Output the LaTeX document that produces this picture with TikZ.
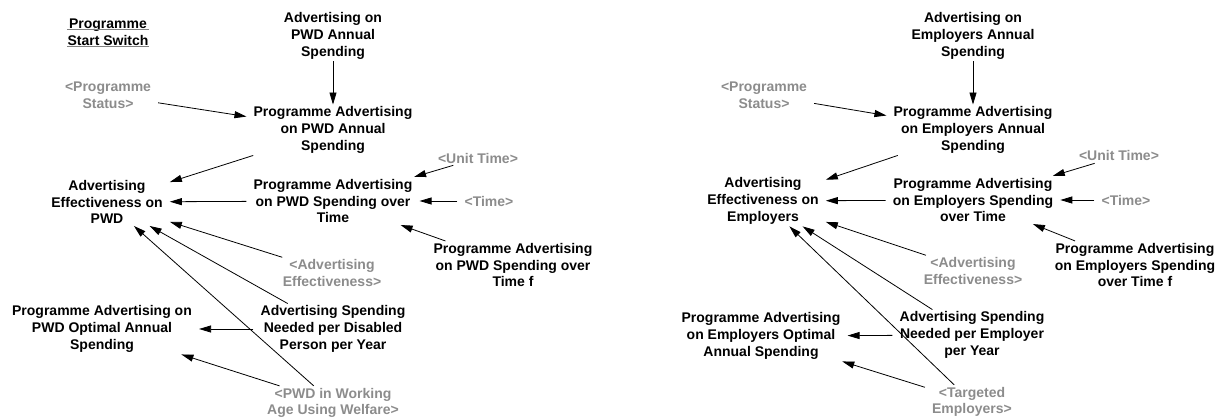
\documentclass[tikz,border=0pt]{standalone}
\usepackage{fontspec}
\setmainfont{Liberation Sans}
\usepackage{xcolor}
\usetikzlibrary{arrows.meta, positioning}

\definecolor{shadowgray}{RGB}{140,140,140}

\tikzset{
  var/.style={font=\fontsize{14}{16.7}\selectfont\bfseries, align=center, inner xsep=7pt, inner ysep=2pt},
  shadow/.style={var, text=shadowgray},
  link/.style={-{Triangle[length=12pt,width=7pt]}, line width=0.8pt},
  uline/.style={gray, line width=0.8pt}
}

\begin{document}
\begin{tikzpicture}[x=1pt, y=-1pt]
    \useasboundingbox (0,0) rectangle (1227,419);

    % PWD side
    \node[var] (switch) at (108,32) {Programme\\Start Switch};
    \draw[uline] ([shift={(7,-2.5)}]switch.west) -- ([shift={(-7,-2.5)}]switch.east);
    \draw[uline] ([shift={(7,14)}]switch.west) -- ([shift={(-7,14)}]switch.east);
    \node[var] (adpwd) at (333,36) {Advertising on\\PWD Annual\\Spending};
    \node[var] (paannual) at (333,130) {Programme Advertising\\on PWD Annual\\Spending};
    \node[shadow] (statusL) at (108,95) {<Programme\\Status>};
    \node[var] (effpwd) at (107,202) {Advertising\\Effectiveness on\\PWD};
    \node[var] (paovertime) at (333,201) {Programme Advertising\\on PWD Spending over\\Time};
    \node[shadow] (unittimeL) at (478,158) {<Unit Time>};
    \node[shadow] (timeL) at (489,201) {<Time>};
    \node[var] (paf) at (513,265) {Programme Advertising\\on PWD Spending over\\Time f};
    \node[shadow] (adeffL) at (332,273) {<Advertising\\Effectiveness>};
    \node[var] (needed) at (333,329) {Advertising Spending\\Needed per Disabled\\Person per Year};
    \node[var] (optimal) at (102,329) {Programme Advertising on\\PWD Optimal Annual\\Spending};
    \node[shadow] (welfare) at (333,403) {<PWD in Working\\Age Using Welfare>};

    \draw[link] (adpwd) -- (paannual);
    \draw[link] (statusL) -- (paannual);
    \draw[link] (paannual) -- (effpwd);
    \draw[link] (paovertime) -- (effpwd);
    \draw[link] (unittimeL) -- (paovertime);
    \draw[link] (timeL) -- (paovertime);
    \draw[link] (paf) -- (paovertime);
    \draw[link] (adeffL) -- (effpwd);
    \draw[link] (needed) -- (effpwd);
    \draw[link] (needed) -- (optimal);
    \draw[link] (welfare) -- (optimal);
    \draw[link] (welfare) -- (effpwd);

    % Employers side
    \node[var] (ademp) at (973,36) {Advertising on\\Employers Annual\\Spending};
    \node[var] (paannualE) at (973,130) {Programme Advertising\\on Employers Annual\\Spending};
    \node[shadow] (statusR) at (764,95) {<Programme\\Status>};
    \node[var] (effemp) at (763,201) {Advertising\\Effectiveness on\\Employers};
    \node[var] (paovertimeE) at (973,200) {Programme Advertising\\on Employers Spending\\over Time};
    \node[shadow] (unittimeR) at (1119,156) {<Unit Time>};
    \node[shadow] (timeR) at (1126,200) {<Time>};
    \node[var] (pafE) at (1135,265) {Programme Advertising\\on Employers Spending\\over Time f};
    \node[shadow] (adeffR) at (973,271) {<Advertising\\Effectiveness>};
    \node[var] (neededE) at (972,335) {Advertising Spending\\Needed per Employer\\per Year};
    \node[var] (optimalE) at (761,336) {Programme Advertising\\on Employers Optimal\\Annual Spending};
    \node[shadow] (targeted) at (972,402) {<Targeted\\Employers>};

    \draw[link] (ademp) -- (paannualE);
    \draw[link] (statusR) -- (paannualE);
    \draw[link] (paannualE) -- (effemp);
    \draw[link] (paovertimeE) -- (effemp);
    \draw[link] (unittimeR) -- (paovertimeE);
    \draw[link] (timeR) -- (paovertimeE);
    \draw[link] (pafE) -- (paovertimeE);
    \draw[link] (adeffR) -- (effemp);
    \draw[link] (neededE) -- (effemp);
    \draw[link] (neededE) -- (optimalE);
    \draw[link] (targeted) -- (optimalE);
    \draw[link] (targeted) -- (effemp);
\end{tikzpicture}
\end{document}
